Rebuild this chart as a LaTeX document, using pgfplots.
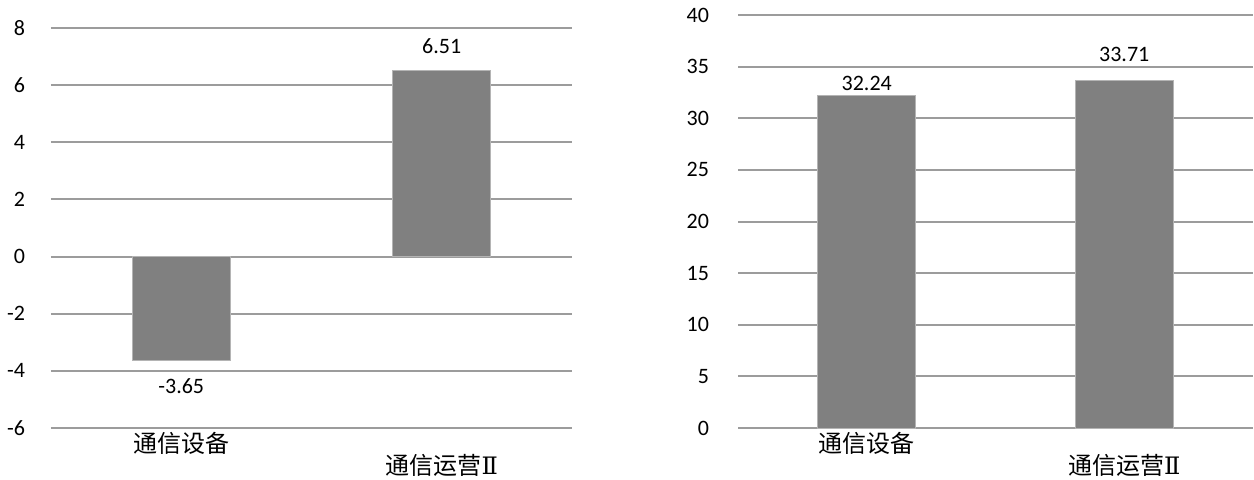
\documentclass[border=0pt]{standalone}
\usepackage{fontspec}
\setmainfont{Carlito}
\newfontfamily\cjk{Noto Sans CJK SC}
\newfontfamily\numeralfont{DejaVu Serif}
\usepackage{pgfplots}
\pgfplotsset{compat=1.18}

\definecolor{barGray}{HTML}{808080}
\definecolor{barEdge}{HTML}{B4B4B4}
\definecolor{gridGray}{HTML}{9C9C9C}

\pgfplotsset{
  panel/.style={
    scale only axis,
    anchor=south west,
    ybar, bar width=49pt, bar shift=0pt,
    xmin=-0.5, xmax=1.5,
    xtick={0,1},
    xticklabels={{\cjk 通信设备},{\raisebox{-11pt}[\height][\depth]{\cjk 通信运营{\numeralfont Ⅱ}}}},
    ymajorgrids,
    major grid style={draw=gridGray, line width=1pt},
    axis line style={draw=none},
    tick style={draw=none},
    /pgf/number format/assume math mode=true,
    ticklabel style={font=\fontsize{11}{13}\selectfont},
    xticklabel style={font=\fontsize{12}{13}\selectfont, yshift=5.5pt},
    nodes near coords,
    nodes near coords style={font=\fontsize{11}{13}\selectfont,
      /pgf/number format/fixed, /pgf/number format/precision=2,
      /pgf/number format/assume math mode=true},
  },
  barstyle/.style={fill=barGray, draw=barEdge, line width=0.4pt},
}

\begin{document}
\begin{tikzpicture}
\path[use as bounding box] (0,0) rectangle (627pt,239.5pt);

% left panel
\begin{axis}[panel,
  at={(25.5pt,25.5pt)}, width=260.5pt, height=200pt,
  ymin=-6, ymax=8, ytick={-6,-4,...,8},
  yticklabel style={xshift=-9.5pt},
  every node near coord/.append style={inner sep=8.5pt},
]
\addplot[barstyle] coordinates {(0,-3.65) (1,6.51)};
\end{axis}

% right panel (runs past the right edge of the picture)
\begin{axis}[panel,
  at={(369pt,25.5pt)}, width=257.5pt, height=206.5pt,
  ymin=0, ymax=40, ytick={0,5,...,40},
  yticklabel style={xshift=-11pt},
]
\addplot[barstyle, every node near coord/.append style={inner sep=2pt}] coordinates {(0,32.24)};
\addplot[barstyle, every node near coord/.append style={inner sep=9pt}] coordinates {(1,33.71)};
\end{axis}
\end{tikzpicture}
\end{document}
